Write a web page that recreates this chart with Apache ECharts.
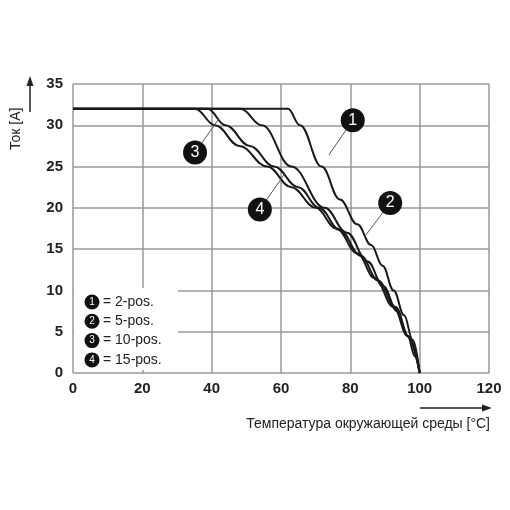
<!DOCTYPE html><html><head><meta charset="utf-8"><script src="https://cdn.jsdelivr.net/npm/echarts@6/dist/echarts.min.js"></script></head><body style="margin:0"><div id="c" style="width:510px;height:510px"></div><script>
const xTicks=[0,20,40,60,80,100,120];
const s1=[[0,32],[62,32],[65.5,30],[71.7,25],[77,21],[82,18],[86,15.5],[89.3,13],[92.5,10],[95.5,7],[98,4],[100,0]];
const s2=[[0,32],[48.3,32],[54.5,30],[63,25],[72.6,20],[79,17],[85,13.5],[89.5,10.5],[93.5,7.5],[96.5,4.5],[98.7,2],[100,0]];
const s3=[[0,32],[35.2,32],[41,30],[48,27.5],[56,25],[63,22.5],[70,20],[76,17.5],[82,14.5],[87,11.5],[92.5,8],[96.5,4.5],[100,0]];
const s4=[[0,32],[38.8,32],[44,30],[51,27.5],[58,25],[65,22.5],[71,20],[77,17.3],[83,14.2],[88,11.2],[93,8],[97,4.3],[100,0]];
const badges=[[80.7,30.6,'1'],[91.5,20.6,'2'],[35.2,26.7,'3'],[53.9,19.8,'4']];
const leaders=[[[73.8,26.4],[80.7,30.6]],[[84.1,16.5],[91.5,20.6]],[[42.1,30.8],[35.2,26.7]],[[61,24.1],[53.9,19.8]]];
const legendItems=['= 2-pos.','= 5-pos.','= 10-pos.','= 15-pos.'];
const ch=echarts.init(document.getElementById('c'));
const line=(d)=>({type:'line',data:d,symbol:'none',smooth:0.4,smoothMonotone:'x',lineStyle:{color:'#1a1a1a',width:2},z:3});
const series=[line(s1),line(s2),line(s3),line(s4)];
leaders.forEach(l=>series.push({type:'line',data:l,symbol:'none',lineStyle:{color:'#555',width:1},z:4}));
series.push({type:'scatter',data:badges.map(b=>[b[0],b[1],b[2]]),symbolSize:24,itemStyle:{color:'#111',opacity:1},z:5,
 label:{show:true,position:'inside',formatter:p=>p.value[2],color:'#fff',fontSize:16,fontFamily:'Liberation Sans'}});
const g=[{type:'rect',shape:{x:74,y:288,width:104,height:82},style:{fill:'#fff'},z:10}];
legendItems.forEach((t,i)=>{const y=302+i*19.3;
 g.push({type:'circle',shape:{cx:92,cy:y,r:7.5},style:{fill:'#111'},z:11});
 g.push({type:'text',x:92,y:y,style:{text:String(i+1),fill:'#fff',font:'10px Liberation Sans',align:'center',verticalAlign:'middle'},z:12});
 g.push({type:'text',x:103,y:y,style:{text:t,fill:'#222',font:'14px Liberation Sans',verticalAlign:'middle'},z:12});});
g.push({type:'text',x:16,y:150,rotation:Math.PI/2,style:{text:'Ток [A]',fill:'#222',font:'14px Liberation Sans',verticalAlign:'middle'},z:12});
g.push({type:'line',shape:{x1:30,y1:112,x2:30,y2:82},style:{stroke:'#222',lineWidth:1.5},z:12});
g.push({type:'polygon',shape:{points:[[30,76],[26.5,86],[33.5,86]]},style:{fill:'#222'},z:12});
g.push({type:'text',x:490,y:424,style:{text:'Температура окружающей среды [°C]',fill:'#222',font:'14px Liberation Sans',align:'right',verticalAlign:'middle'},z:12});
g.push({type:'line',shape:{x1:420,y1:408,x2:484,y2:408},style:{stroke:'#222',lineWidth:1.5},z:12});
g.push({type:'polygon',shape:{points:[[492,408],[482,404.5],[482,411.5]]},style:{fill:'#222'},z:12});
ch.setOption({animation:false,grid:{left:73,right:21,top:84,bottom:137},
 xAxis:{type:'value',min:0,max:120,interval:20,axisLine:{show:false},axisTick:{show:false},
  axisLabel:{color:'#222',fontSize:15,fontWeight:'bold',fontFamily:'Liberation Sans',margin:8},splitLine:{lineStyle:{color:'#999',width:1.5}}},
 yAxis:{type:'value',min:0,max:35,interval:5,axisLine:{show:false},axisTick:{show:false},
  axisLabel:{color:'#222',fontSize:15,fontWeight:'bold',fontFamily:'Liberation Sans',margin:10},splitLine:{lineStyle:{color:'#999',width:1.5}}},
 series:series,graphic:g});
</script></body></html>
